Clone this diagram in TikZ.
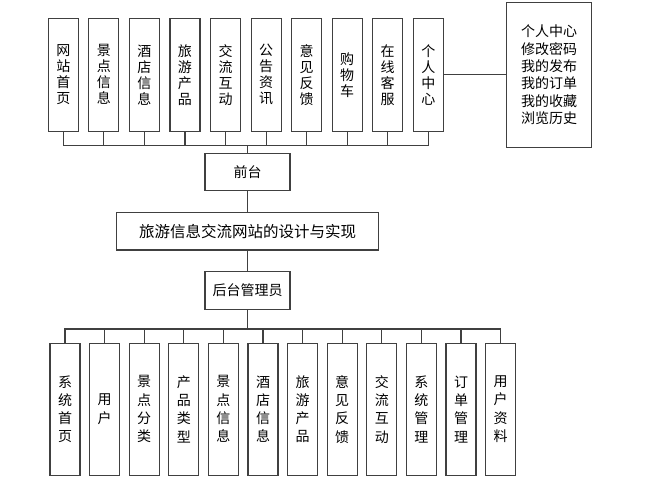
\documentclass[tikz,border=0pt]{standalone}
\usepackage{fontspec}
\setmainfont{Noto Sans CJK SC}
\usetikzlibrary{positioning,calc}
\definecolor{LineGray}{RGB}{64,64,64}
\tikzset{
  vbox/.style={draw=LineGray,fill=white,line width=1.1pt,minimum width=30pt,
               inner sep=0pt,align=center},
  hbox/.style={draw=LineGray,fill=white,line width=1.1pt,minimum height=37.5pt,
               inner sep=0pt,font=\fontsize{14}{16}\selectfont},
  link/.style={LineGray,line width=1.1pt},
}

\begin{document}
\begin{tikzpicture}[x=1pt,y=-1pt]
                \useasboundingbox (0,0) rectangle (647,479);
                % Draw front-end modules
                \foreach \t [count=\i from 0] in {{网\\站\\首\\页},{景\\点\\信\\息},{酒\\店\\信\\息},{旅\\游\\产\\品},{交\\流\\互\\动},{公\\告\\资\\讯},{意\\见\\反\\馈},{购\\物\\车},{在\\线\\客\\服},{个\\人\\中\\心}}
                    \node[vbox, minimum height=112.7pt, font=\fontsize{14}{16}\selectfont] (top\i) at (63.3+40.55*\i, 74.7) {\t};
                
                \node[vbox, minimum width=85pt, minimum height=145pt, font=\fontsize{14}{17.3}\selectfont] (center) at (549.2, 74.8) {个人中心\\修改密码\\我的发布\\我的订单\\我的收藏\\浏览历史};
                
                % Draw main boxes
                \node[hbox, minimum width=85pt] (front) at (247.5, 172) {前台};
                \node[hbox, minimum width=262.3pt, font=\fontsize{15.5}{16}\selectfont] (title) at (247.5, 231.2) {旅游信息交流网站的设计与实现};
                \node[hbox, minimum width=85pt] (admin) at (247.5, 290.5) {后台管理员};
                
                % Draw back-end modules
                \foreach \t [count=\i from 0] in {{系\\统\\首\\页},{用\\户},{景\\点\\分\\类},{产\\品\\类\\型},{景\\点\\信\\息},{酒\\店\\信\\息},{旅\\游\\产\\品},{意\\见\\反\\馈},{交\\流\\互\\动},{系\\统\\管\\理},{订\\单\\管\\理},{用\\户\\资\\料}}
                    \node[vbox, minimum height=131.7pt, font=\fontsize{14}{18.3}\selectfont] (bot\i) at (65+39.6*\i, 409.2) {\t};
                
                % Draw connectors
                \coordinate (fbus) at (247.5, 145.7);
                \coordinate (bbus) at (247.5, 329);
                \foreach \i in {0,...,9}
                    \draw[link] (top\i.south) |- (fbus);
                \draw[link] (fbus) -- (front.north);
                \draw[link] (top9.east) -- (top9.east -| center.west);
                \draw[link] (front) -- (title);
                \draw[link] (title) -- (admin);
                \draw[link] (admin.south) -- (bbus);
                \foreach \i in {0,...,11}
                    \draw[link] (bbus) -| (bot\i.north);
            \end{tikzpicture}
\end{document}
